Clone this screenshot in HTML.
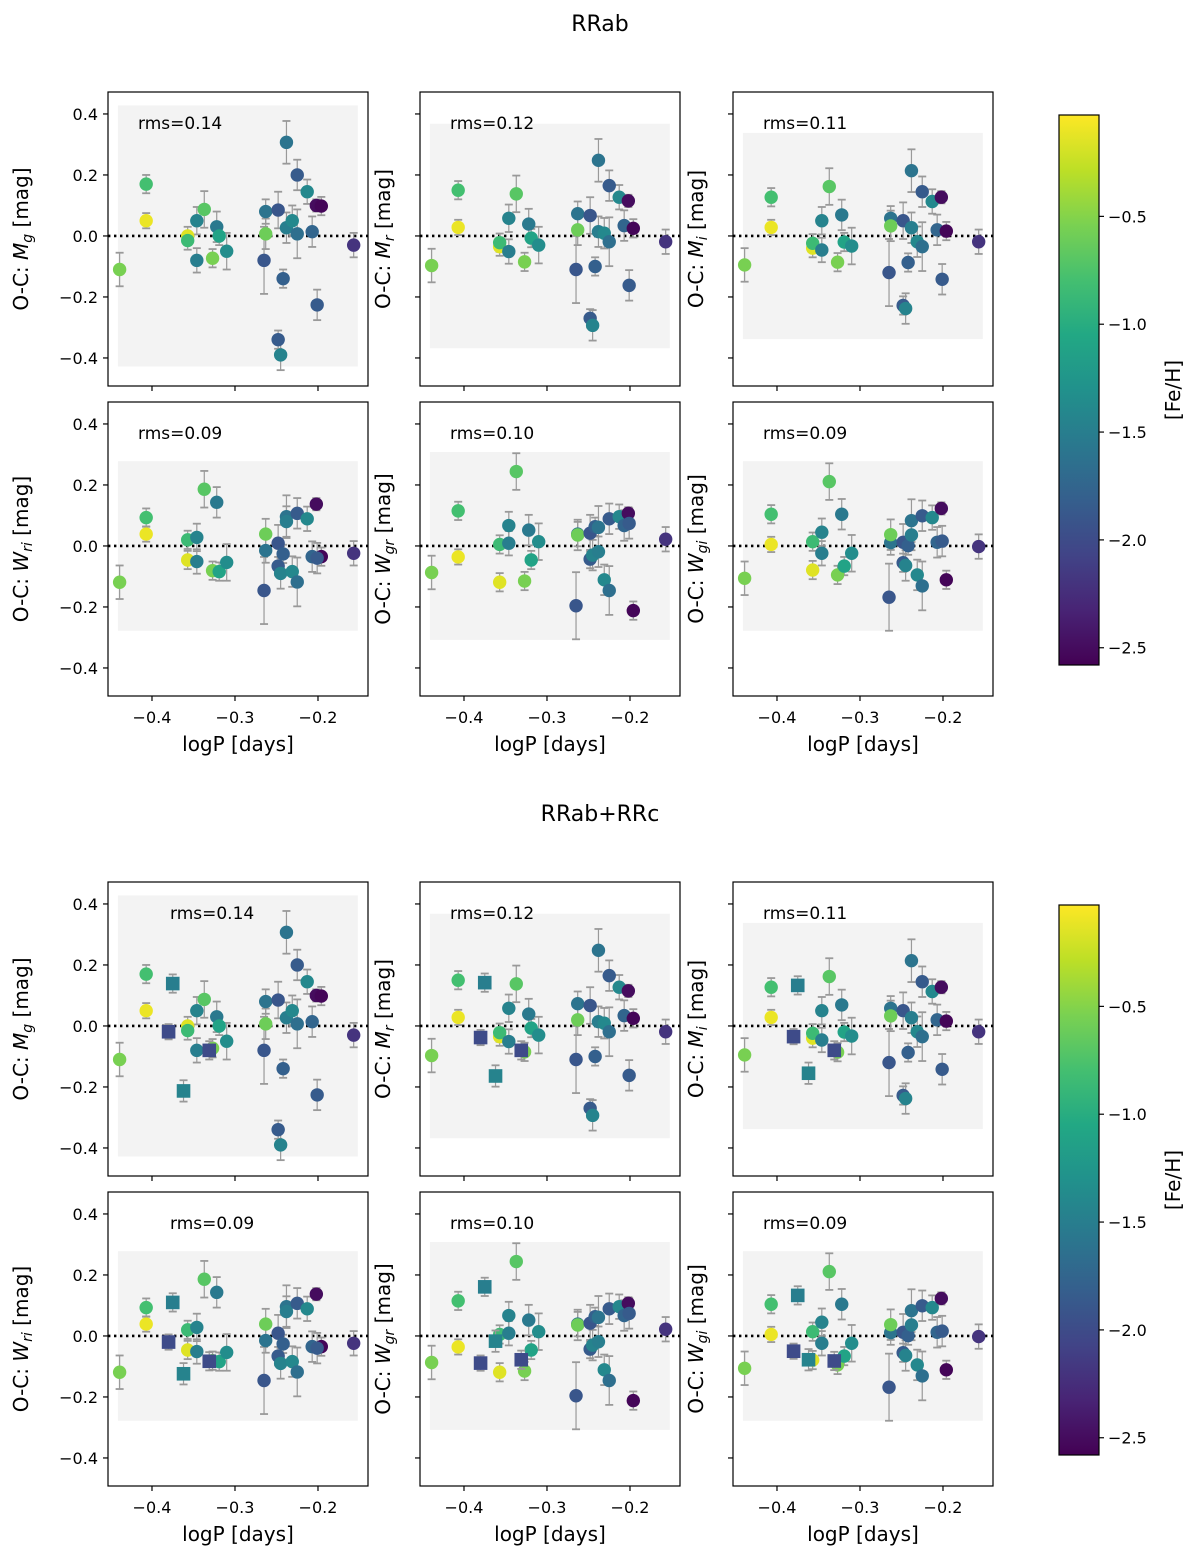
<!DOCTYPE html>
<html><head><meta charset="utf-8"><style>
html,body{margin:0;padding:0;background:#fff;}
svg{display:block;font-family:"DejaVu Sans","Liberation Sans",sans-serif;}
</style></head><body>
<svg id="fig" width="1200" height="1565" viewBox="0 0 1200 1565" xmlns="http://www.w3.org/2000/svg">
<defs>
<linearGradient id="vir" x1="0" y1="1" x2="0" y2="0">
<stop offset="0" stop-color="#440154"/><stop offset="0.1" stop-color="#482475"/><stop offset="0.2" stop-color="#414487"/><stop offset="0.3" stop-color="#355f8d"/><stop offset="0.4" stop-color="#2a788e"/><stop offset="0.5" stop-color="#21918c"/><stop offset="0.6" stop-color="#22a884"/><stop offset="0.7" stop-color="#44bf70"/><stop offset="0.8" stop-color="#7ad151"/><stop offset="0.9" stop-color="#bddf26"/><stop offset="1" stop-color="#fde725"/>
</linearGradient>
</defs>
<text x="600" y="31" font-size="22" text-anchor="middle">RRab</text>
<text x="600" y="821" font-size="22" text-anchor="middle">RRab+RRc</text>
</svg>
<script>
// RRab stars
const logP = [-0.439,-0.407,-0.407,-0.357,-0.357,-0.346,-0.346,-0.337,-0.327,-0.322,-0.319,-0.310,-0.265,-0.263,-0.263,-0.248,-0.248,-0.245,-0.242,-0.238,-0.238,-0.231,-0.225,-0.225,-0.213,-0.207,-0.202,-0.196,-0.201,-0.157];
const feh = [-0.55,-0.8,-0.1,-0.15,-0.85,-1.45,-1.5,-0.7,-0.55,-1.55,-1.1,-1.35,-1.9,-1.6,-0.6,-1.9,-1.85,-1.45,-1.8,-1.6,-1.5,-1.4,-1.85,-1.65,-1.4,-1.75,-2.5,-2.55,-1.85,-2.2];
const errs = [0.055,0.03,0.025,0.03,0.03,0.045,0.04,0.06,0.03,0.05,0.03,0.06,0.11,0.04,0.05,0.06,0.03,0.05,0.03,0.07,0.05,0.05,0.05,0.08,0.04,0.05,0.02,0.03,0.05,0.04];
const valMg = [-0.11,0.17,0.05,0.0,-0.015,0.05,-0.08,0.087,-0.073,0.03,0.0,-0.05,-0.08,0.08,0.007,0.085,-0.34,-0.39,-0.14,0.307,0.027,0.05,0.2,0.007,0.145,0.014,0.10,0.098,-0.226,-0.03];
const valMr = [-0.097,0.15,0.028,-0.035,-0.022,0.058,-0.051,0.138,-0.085,0.039,-0.007,-0.03,-0.11,0.073,0.02,0.067,-0.27,-0.293,-0.10,0.248,0.014,0.009,0.165,-0.019,0.127,0.034,0.115,0.025,-0.162,-0.019];
const valMi = [-0.095,0.127,0.028,-0.04,-0.024,0.05,-0.046,0.162,-0.086,0.069,-0.02,-0.033,-0.12,0.058,0.033,0.05,-0.228,-0.238,-0.087,0.214,0.027,-0.019,0.145,-0.035,0.113,0.02,0.127,0.016,-0.142,-0.019];
const valWri = [-0.119,0.093,0.039,-0.046,0.02,0.028,-0.051,0.186,-0.081,0.143,-0.084,-0.054,-0.146,-0.015,0.039,0.009,-0.066,-0.09,-0.026,0.096,0.08,-0.084,0.107,-0.118,0.089,-0.035,0.137,-0.035,-0.04,-0.024];
const valWgr = [-0.087,0.115,-0.036,-0.119,0.005,0.067,0.009,0.244,-0.115,0.052,-0.046,0.014,-0.196,0.039,0.036,0.042,-0.043,-0.03,0.063,0.061,-0.019,-0.111,0.089,-0.146,0.096,0.067,0.107,-0.212,0.074,0.022];
const valWgi = [-0.106,0.104,0.005,-0.079,0.014,0.045,-0.024,0.211,-0.095,0.104,-0.066,-0.024,-0.168,0.011,0.037,0.012,-0.055,-0.064,0.001,0.083,0.036,-0.095,0.099,-0.131,0.093,0.012,0.123,-0.111,0.016,-0.002];
// RRc stars (squares)
const cLogP = [-0.375,-0.380,-0.362,-0.331];
const cFeh = [-1.5,-2.0,-1.45,-2.0];
const cMg = [0.139,-0.019,-0.213,-0.08];
const cMr = [0.142,-0.038,-0.164,-0.08];
const cMi = [0.133,-0.035,-0.155,-0.08];
const cWri = [0.11,-0.02,-0.124,-0.083];
const cWgr = [0.161,-0.089,-0.017,-0.078];
const cWgi = [0.133,-0.05,-0.078,-0.082];
const rmsVals = [0.14,0.12,0.11,0.09,0.10,0.09];
const yTicks = [0.4,0.2,0.0,-0.2,-0.4];
const xTicks = [-0.4,-0.3,-0.2];
const cbTicks = [-0.5,-1.0,-1.5,-2.0,-2.5];

const NS = "http://www.w3.org/2000/svg";
const svg = document.getElementById('fig');
function mk(tag, attrs, parent){ const e=document.createElementNS(NS,tag); for(const k in attrs) e.setAttribute(k,attrs[k]); (parent||svg).appendChild(e); return e; }
const stops=[[0,[68,1,84]],[.1,[72,36,117]],[.2,[65,68,135]],[.3,[53,95,141]],[.4,[42,120,142]],[.5,[33,145,140]],[.6,[34,168,132]],[.7,[68,191,112]],[.8,[122,209,81]],[.9,[189,223,38]],[1,[253,231,37]]];
const vmin=-2.58, vmax=-0.03;
function cmap(v){ let t=(v-vmin)/(vmax-vmin); t=Math.max(0,Math.min(1,t)); for(let i=1;i<stops.length;i++){ if(t<=stops[i][0]){ const a=stops[i-1],b=stops[i]; const f=(t-a[0])/(b[0]-a[0]); const c=a[1].map((x,j)=>Math.round(x+(b[1][j]-x)*f)); return `rgb(${c})`; } } return 'rgb(253,231,37)'; }
function fmt(v){ return (v<0?'\u2212':'')+Math.abs(v).toFixed(1); }

const colX=[108,420,733], rowY=[92,402,882,1192], W=260, H=294;
const labels=[['M','g'],['M','r'],['M','i'],['W','ri'],['W','gr'],['W','gi']];
const topVals=[valMg,valMr,valMi,valWri,valWgr,valWgi];
const cVals=[cMg,cMr,cMi,cWri,cWgr,cWgi];

for(let sec=0;sec<2;sec++){
 for(let p=0;p<6;p++){
  const r=Math.floor(p/3), c=p%3;
  const x0=colX[c], y0=rowY[sec*2+r];
  const sx=lp=>x0+(lp+0.453)*830;
  const sy=v=>y0+(0.472-v)*305;
  const g=mk('g',{});
  
  
  const rms=rmsVals[p];
  const bx=mk('rect',{x:sx(-0.441),y:sy(3*rms+0.008),width:sx(-0.152)-sx(-0.441),height:sy(-3*rms-0.008)-sy(3*rms+0.008),fill:'#f3f3f3'},g);
  
  
  const zl=mk('line',{x1:x0,x2:x0+W,y1:sy(0),y2:sy(0),stroke:'#000','stroke-width':2.6,'stroke-dasharray':'2.4 3.6'},g);
  
  
  const rt=mk('text',{x:(sec===1&&c===0)?170:x0+30,y:y0+37,'font-size':17},g);
  rt.textContent='rms='+rms.toFixed(2);
  
  
  const vals=topVals[p];
  const draw=(lps,vs,fs,es,sq)=>{
   for(let i=0;i<lps.length;i++){
    const X=sx(lps[i]), e=es[i];
    const eb=mk('g',{stroke:'#999','stroke-width':1.2},g);
    mk('line',{x1:X,x2:X,y1:sy(vs[i]+e),y2:sy(vs[i]-e)},eb);
    mk('line',{x1:X-4,x2:X+4,y1:sy(vs[i]+e),y2:sy(vs[i]+e),'stroke-width':1.8},eb);
    mk('line',{x1:X-4,x2:X+4,y1:sy(vs[i]-e),y2:sy(vs[i]-e),'stroke-width':1.8},eb);
    
    
   }
   for(let i=0;i<lps.length;i++){
    const X=sx(lps[i]), Y=sy(vs[i]);
    let m;
    if(sq){ m=mk('rect',{x:X-6.8,y:Y-6.8,width:13.6,height:13.6,fill:cmap(fs[i])},g);  }
    else { m=mk('circle',{cx:X,cy:Y,r:6.7,fill:cmap(fs[i])},g);  }
    
   }
  };
  draw(logP,vals,feh,errs,false);
  if(sec===1) draw(cLogP,cVals[p],cFeh,[0.03,0.025,0.035,0.03],true);
  const fr=mk('rect',{x:x0,y:y0,width:W,height:H,fill:'none',stroke:'#000','stroke-width':1.2},g);
  
  
  yTicks.forEach(t=>{
   mk('line',{x1:x0-5,x2:x0,y1:sy(t),y2:sy(t),stroke:'#000','stroke-width':1.2},g);
   if(c===0){ const tl=mk('text',{x:x0-10,y:sy(t)+6,'font-size':16,'text-anchor':'end'},g); tl.textContent=fmt(t);
     
      }
  });
  xTicks.forEach(t=>{
   mk('line',{x1:sx(t),x2:sx(t),y1:y0+H,y2:y0+H+5,stroke:'#000','stroke-width':1.2},g);
   if(r===1){ const tl=mk('text',{x:sx(t),y:y0+H+27,'font-size':16,'text-anchor':'middle'},g); tl.textContent=fmt(t);
     
      }
  });
  if(r===1){ const xt=mk('text',{x:x0+W/2,y:y0+H+55,'font-size':20,'text-anchor':'middle'},g); xt.textContent='logP [days]';
   
    }
  const lx=x0-(c===0?80:30), ly=y0+H/2;
  const yt=mk('text',{x:lx,y:ly,'font-size':20,'text-anchor':'middle',transform:`rotate(-90 ${lx} ${ly})`},g);
  yt.innerHTML=`O-C: <tspan font-style="italic">${labels[p][0]}</tspan><tspan font-style="italic" font-size="14" dy="4">${labels[p][1]}</tspan><tspan dy="-4"> [mag]</tspan>`;
  
  
 }
 // colorbar
 const cy0=sec?905:115, ch=550;
 const cb=mk('g',{});
 
 
 mk('rect',{x:1059,y:cy0,width:40,height:ch,fill:'url(#vir)',stroke:'#000','stroke-width':1.2},cb);
 cbTicks.forEach(t=>{
  const Y=cy0+(vmax-t)/(vmax-vmin)*ch;
  mk('line',{x1:1099,x2:1104,y1:Y,y2:Y,stroke:'#000','stroke-width':1.2},cb);
  const tl=mk('text',{x:1108,y:Y+6,'font-size':16},cb); tl.textContent=fmt(t);
  
  
 });
 const cx=1180, cyy=cy0+275;
 const cl=mk('text',{x:cx,y:cyy,'font-size':20,'text-anchor':'middle',transform:`rotate(-90 ${cx} ${cyy})`},cb); cl.textContent='[Fe/H]';
 
 
}
</script>
</body></html>
